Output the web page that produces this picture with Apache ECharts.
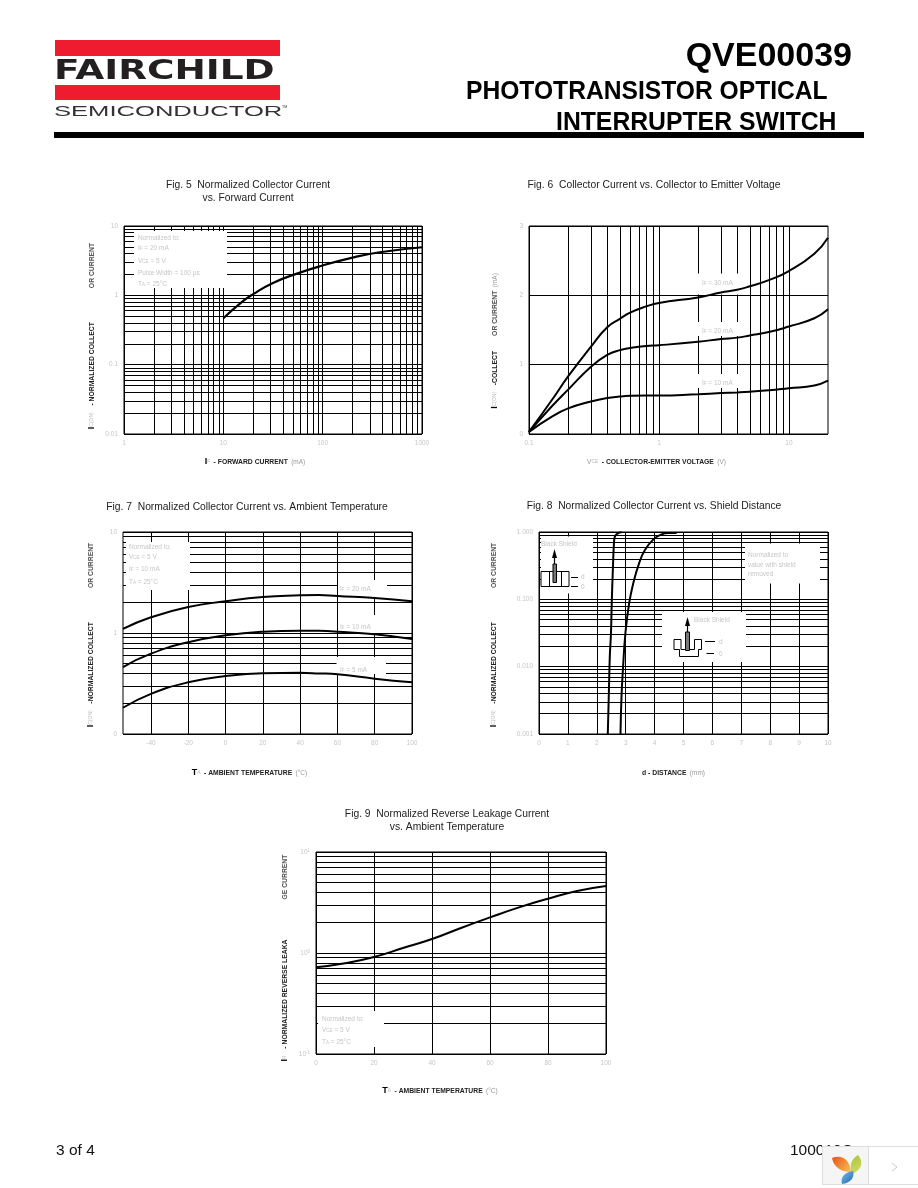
<!DOCTYPE html>
<html>
<head>
<meta charset="utf-8">
<style>html,body{margin:0;padding:0;background:#fff}#main{width:918px;height:1188px}</style>
<script src="https://cdn.jsdelivr.net/npm/echarts@6/dist/echarts.min.js"></script>
</head>
<body>
<div id="main"></div>
<script>
// Fig. 5
const fig5Forward = [10, 15, 20, 32, 57, 94, 195, 375, 1000];
const fig5Collector = [0.466, 0.78, 1.04, 1.52, 2.09, 2.63, 3.47, 4.18, 4.94];
// Fig. 6
const fig6Vce = [0.1, 0.15, 0.2, 0.3, 0.4, 0.5, 0.6, 0.8, 1, 2, 3, 4, 5, 7, 10, 15.7, 20];
const fig6If30 = [0.03, 0.49, 0.83, 1.26, 1.54, 1.66, 1.75, 1.84, 1.89, 1.97, 2.04, 2.08, 2.13, 2.22, 2.35, 2.6, 2.83];
const fig6If20 = [0.03, 0.4, 0.64, 0.97, 1.14, 1.21, 1.24, 1.27, 1.28, 1.33, 1.37, 1.39, 1.42, 1.47, 1.55, 1.67, 1.8];
const fig6If10 = [0.03, 0.25, 0.37, 0.47, 0.52, 0.54, 0.55, 0.555, 0.555, 0.575, 0.59, 0.6, 0.61, 0.63, 0.66, 0.7, 0.77];
// Fig. 7
const fig7Temp = [-55, -40, -20, 0, 20, 40, 50, 60, 80, 100];
const fig7If20 = [1.1, 1.43, 1.81, 2.06, 2.27, 2.36, 2.38, 2.32, 2.22, 2.06];
const fig7If10 = [0.46, 0.624, 0.81, 0.948, 1.03, 1.055, 1.05, 1.03, 0.97, 0.87];
const fig7If5 = [0.182, 0.25, 0.325, 0.375, 0.4, 0.403, 0.398, 0.39, 0.353, 0.325];
// Fig. 8
const fig8DistA = [2.38, 2.42, 2.45, 2.49, 2.52, 2.555, 2.59, 2.62, 2.71, 2.86];
const fig8CurrA = [0.001, 0.00454, 0.0141, 0.0313, 0.0972, 0.271, 0.635, 0.843, 0.945, 0.99];
const fig8DistB = [2.82, 2.855, 2.91, 2.99, 3.11, 3.26, 3.46, 3.66, 3.95, 4.24, 4.47, 4.76];
const fig8CurrB = [0.001, 0.0036, 0.01, 0.0313, 0.082, 0.172, 0.34, 0.535, 0.77, 0.924, 0.966, 0.966];
// Fig. 9
const fig9Temp = [0, 10, 20, 30, 40, 50, 60, 70, 80, 90, 100];
const fig9Leak = [0.721, 0.79, 0.913, 1.12, 1.376, 1.77, 2.25, 2.83, 3.45, 4.11, 4.61];
// gridlines and tick labels
const logSteps = [1, 2, 3, 4, 5, 6, 7, 8, 9];
const fig5XLabels = [1, 10, 100, 1000];
const fig5YLabels = [0.01, 0.1, 1, 10];
const fig6XLabels = [0.1, 1, 10];
const fig6YTicks = [0, 1, 2, 3];
const fig7XTicks = [-40, -20, 0, 20, 40, 60, 80, 100];
const fig7YLabels = [0.1, 1, 10];
const fig8XTicks = [0, 1, 2, 3, 4, 5, 6, 7, 8, 9, 10];
const fig8YLabels = [0.001, 0.01, 0.1, 1];
const fig9XTicks = [0, 20, 40, 60, 80, 100];
const fig9YLabels = [0.1, 1, 10];

const SANS = '"Liberation Sans", Arial, sans-serif';
const PALE = '#c6c6c6';

function decades(from, count) {
    const out = [];
    for (let d = 0; d < count; d++) {
        logSteps.forEach(s => out.push(+(s * from * Math.pow(10, d)).toPrecision(3)));
    }
    out.push(+(from * Math.pow(10, count)).toPrecision(3));
    return out;
}

const nameRich = {
    b: {fontFamily: SANS, fontSize: 6.8, fontWeight: 'bold', color: '#222'},
    m: {fontFamily: SANS, fontSize: 6.8, fontWeight: 'bold', color: '#555'},
    p: {fontFamily: SANS, fontSize: 6.5, color: '#999'},
    s: {fontFamily: SANS, fontSize: 5, color: '#bbb'},
    i: {fontFamily: SANS, fontSize: 9, fontWeight: 'bold', color: '#000'},
    g1: {width: 34}, g2: {width: 15}, g3: {width: 40}
};

function axis(gridIndex, type, min, max, ticks, labels, formatter, name, nameGap, padding) {
    return {
        gridIndex, type, min, max,
        logBase: 10,
        name, nameGap,
        nameLocation: 'middle',
        nameTextStyle: {padding, rich: nameRich},
        axisLine: {show: false},
        axisTick: {show: false, customValues: ticks},
        axisLabel: {customValues: labels, color: PALE, fontSize: 6.5, fontFamily: SANS, margin: 6, hideOverlap: false,
            formatter, rich: {a: {color: PALE, fontSize: 6.5}, u: {color: PALE, fontSize: 4.5, verticalAlign: 'top'}}},
        splitLine: {show: true, lineStyle: {color: '#000', width: 1}},
        minorSplitLine: {show: false}
    };
}

const plain = v => String(v);

const grids = [
    {left: 124, top: 226, width: 298, height: 208},
    {left: 529, top: 226, width: 299, height: 208},
    {left: 123, top: 532, width: 289, height: 202},
    {left: 539, top: 532, width: 289, height: 202},
    {left: 316, top: 852, width: 290, height: 202}
].map(g => ({...g, show: true, borderColor: '#000', borderWidth: 1, backgroundColor: 'transparent'}));

const xAxes = [
    axis(0, 'log', 1, 1000, decades(1, 3), fig5XLabels, plain, '{i|I}{s|F} {b|- FORWARD CURRENT} {p|(mA)}', 22, [0, 36, 0, 0]),
    axis(1, 'log', 0.1, 20, decades(0.1, 2), fig6XLabels, plain, '{p|V}{s|CE} {b|- COLLECTOR-EMITTER VOLTAGE} {p|(V)}', 22, [0, 44, 0, 0]),
    axis(2, 'value', -55, 100, fig7XTicks, fig7XTicks, plain, '{i|T}{s|A} {b|- AMBIENT TEMPERATURE} {p|(°C)}', 33, [0, 36, 0, 0]),
    axis(3, 'value', 0, 10, fig8XTicks, fig8XTicks, plain, '{b|d - DISTANCE} {p|(mm)}', 33, [0, 20, 0, 0]),
    axis(4, 'value', 0, 100, fig9XTicks, fig9XTicks, plain, '{i|T}{s|A} {b|- AMBIENT TEMPERATURE} {p|(°C)}', 31, [0, 42, 0, 0])
];

const yAxes = [
    axis(0, 'log', 0.01, 10, decades(0.01, 3), fig5YLabels, plain, '{i|I}{s|C(ON)}  {b|- NORMALIZED COLLECT}{g1| }{m|OR CURRENT}', 26, [0, 12, 0, 0]),
    axis(1, 'value', 0, 3, fig6YTicks, fig6YTicks, plain, '{i|I}{s|C(ON)}  {b|-COLLECT}{g2| }{m|OR CURRENT} {p|(mA)}', 28, [0, 22, 0, 0]),
    axis(2, 'log', 0.1, 10, decades(0.1, 2), fig7YLabels, v => (v < 1 ? '0' : String(v)), '{i|I}{s|C(ON)}  {b|-NORMALIZED COLLECT}{g1| }{m|OR CURRENT}', 26, [0, 4, 0, 0]),
    axis(3, 'log', 0.001, 1, decades(0.001, 3), fig8YLabels, v => Number(v).toFixed(3), '{i|I}{s|C(ON)}  {b|-NORMALIZED COLLECT}{g1| }{m|OR CURRENT}', 39, [0, 4, 0, 0]),
    axis(4, 'log', 0.1, 10, decades(0.1, 2), fig9YLabels, v => (v < 1 ? '{a|10}{u|-1}' : v > 1 ? '{a|10}{u|1}' : '{a|10}{u|0}'), '{i|I}{s|R}  {b|- NORMALIZED REVERSE LEAKA}{g3| }{m|GE CURRENT}', 25, [0, 10, 0, 0])
];

function curve(idx, xs, ys, width) {
    return {
        type: 'line', xAxisIndex: idx, yAxisIndex: idx, z: 2,
        data: xs.map((x, i) => [x, ys[i]]),
        smooth: 0.5, symbol: 'none', silent: true,
        lineStyle: {color: '#000', width: width || 2}
    };
}

const titles = [
    {text: 'Fig. 5  Normalized Collector Current\nvs. Forward Current', left: 248, top: 178},
    {text: 'Fig. 6  Collector Current vs. Collector to Emitter Voltage', left: 654, top: 178},
    {text: 'Fig. 7  Normalized Collector Current vs. Ambient Temperature', left: 247, top: 500},
    {text: 'Fig. 8  Normalized Collector Current vs. Shield Distance', left: 654, top: 499},
    {text: 'Fig. 9  Normalized Reverse Leakage Current\nvs. Ambient Temperature', left: 447, top: 807}
].map(t => ({...t, textAlign: 'center', padding: 0,
    textStyle: {fontFamily: SANS, fontSize: 10.3, fontWeight: 'normal', color: '#222', lineHeight: 13.5}}));

// white patches behind the notes, they cut the gridlines
const patches = [
    [134, 231, 93, 57], [697, 273.5, 42, 21], [697, 322, 42, 14], [697, 374, 42, 14],
    [126, 542, 64, 48], [338, 580, 49, 18], [338, 615, 49, 18], [336.5, 657, 49.5, 17],
    [541, 536.5, 52, 57], [662, 612, 84, 50], [745, 543.5, 75, 40],
    [318, 1011, 66, 36]
].map(p => ({type: 'rect', shape: {x: p[0], y: p[1], width: p[2], height: p[3]}, style: {fill: '#fff'}}));

function note(x, y, text, size) {
    return {type: 'text', x, y, style: {
        text, fontFamily: SANS, fontSize: size || 6.5, fill: PALE, verticalAlign: 'middle',
        rich: {s: {fontFamily: SANS, fontSize: 4.5, fill: PALE, verticalAlign: 'bottom'}}
    }};
}

function seg(x1, y1, x2, y2, w) {
    return {type: 'line', shape: {x1, y1, x2, y2}, style: {stroke: '#000', lineWidth: w || 1}};
}

function box(x, y, w, h, fill) {
    return {type: 'rect', shape: {x, y, width: w, height: h}, style: {fill: fill || 'none', stroke: '#000', lineWidth: 1}};
}

function arrowHead(x, y) {
    return {type: 'polygon', shape: {points: [[x, y], [x - 2.5, y + 9], [x + 2.5, y + 9]]}, style: {fill: '#000'}};
}

const notes = [
    note(138, 238, 'Normalized to:'), note(138, 248, 'I{s|F} = 20 mA'), note(138, 261, 'V{s|CE} = 5 V'),
    note(138, 273, 'Pulse Width = 100 µs'), note(138, 284, 'T{s|A} = 25°C'),
    note(702, 283, 'I{s|F} = 30 mA'), note(702, 331, 'I{s|F} = 20 mA'), note(702, 383, 'I{s|F} = 10 mA'),
    note(129, 547, 'Normalized to:'), note(129, 557, 'V{s|CE} = 5 V'), note(129, 569, 'I{s|F} = 10 mA'), note(129, 582, 'T{s|A} = 25°C'),
    note(340, 589, 'I{s|F} = 20 mA'), note(340, 627, 'I{s|F} = 10 mA'), note(340, 670, 'I{s|F} = 5 mA'),
    note(322, 1019, 'Normalized to:'), note(322, 1030, 'V{s|CE} = 5 V'), note(322, 1042, 'T{s|A} = 25°C'),
    note(748, 555, 'Normalized to'), note(748, 565, 'value with shield'), note(748, 574, 'removed'),
    // left inset of fig 8
    note(541, 544, 'Black Shield'),
    box(541, 571.5, 28, 15), seg(549.5, 571.5, 549.5, 586.5), seg(561.5, 571.5, 561.5, 586.5),
    seg(554.5, 556, 554.5, 564, 1.2), arrowHead(554.5, 549),
    box(553, 564, 3.5, 18.5, '#777'),
    seg(571, 577.5, 578, 577.5), seg(571, 586.5, 578, 586.5),
    note(581, 577, 'd'), note(581, 587, '0'),
    // right inset of fig 8
    note(694, 620, 'Black Shield'),
    {type: 'polygon', shape: {points: [[674, 639.5], [681, 639.5], [681, 649.5], [694.5, 649.5], [694.5, 639.5], [701.5, 639.5], [701.5, 649.5], [698.5, 649.5], [698.5, 656.5], [679.5, 656.5], [679.5, 649.5], [674, 649.5]]}, style: {fill: 'none', stroke: '#000', lineWidth: 1}},
    seg(687.5, 624, 687.5, 632, 1.2), arrowHead(687.5, 617),
    box(685.5, 632, 4, 18.5, '#777'),
    seg(705, 641.5, 715, 641.5), seg(706.5, 653.5, 714, 653.5),
    note(719, 642, 'd'), note(719, 654, '0')
];

function headText(x, y, text, font, align, scaleX, fill) {
    return {type: 'text', x, y, scaleX: scaleX || 1,
        style: {text, font, fill: fill || '#000', align: align || 'left', verticalAlign: 'bottom'}};
}

function leaf(pathData, c1, c2) {
    return {type: 'path', shape: {pathData},
        style: {fill: {type: 'linear', x: 0, y: 0, x2: 1, y2: 1, colorStops: [{offset: 0, color: c1}, {offset: 1, color: c2}]}}};
}

const page = [
    // logo
    {type: 'rect', shape: {x: 55, y: 40, width: 225, height: 16}, style: {fill: '#ee1c2e'}},
    {type: 'rect', shape: {x: 55, y: 85, width: 225, height: 15}, style: {fill: '#ee1c2e'}},
    headText(54, 85, 'FAIRCHILD', 'bold 26px "DejaVu Sans"', 'left', 1.44, '#231f20'),
    headText(54, 120, 'SEMICONDUCTOR', '15.5px "Liberation Sans"', 'left', 1.65, '#333'),
    headText(282, 109, 'TM', '3.5px "Liberation Sans"', 'left', 1, '#333'),
    // heading
    headText(852, 74, 'QVE00039', 'bold 34px "Liberation Sans"', 'right'),
    headText(466, 105, 'PHOTOTRANSISTOR OPTICAL', 'bold 25px "Liberation Sans"', 'left', 0.985),
    headText(556, 136, 'INTERRUPTER SWITCH', 'bold 25px "Liberation Sans"', 'left', 0.99),
    {type: 'rect', shape: {x: 54, y: 132, width: 810, height: 6}, style: {fill: '#000'}},
    // footer
    headText(56, 1159, '3 of 4', '15.5px "Liberation Sans"', 'left', 1, '#111'),
    headText(790, 1159, '100010C', '15.5px "Liberation Sans"', 'left', 1, '#111'),
    // page widget over the footer
    {type: 'rect', shape: {x: 822.5, y: 1146.5, width: 96, height: 38}, style: {fill: '#fff', stroke: '#ddd', lineWidth: 1}},
    {type: 'rect', shape: {x: 822.5, y: 1146.5, width: 46, height: 38}, style: {fill: '#f5f5f5', stroke: '#ddd', lineWidth: 1}},
    leaf('M832 1158 C842 1154 850 1160 851 1172 C842 1172 834 1168 832 1158 Z', '#e8501c', '#f6c453'),
    leaf('M858 1155 C864 1162 862 1170 852 1174 C849 1166 851 1159 858 1155 Z', '#a5c63a', '#d8dc6a'),
    leaf('M853 1171 C855 1178 850 1183 842 1184 C840 1177 845 1172 853 1171 Z', '#7cc0e8', '#1d64b0'),
    {type: 'polyline', shape: {points: [[892, 1163], [897, 1167], [892, 1171]]}, style: {stroke: '#c8c8c8', fill: 'none', lineWidth: 1}}
];

// pixel layers, one below the curves and one above
function layer(children, z) {
    return {
        type: 'custom', coordinateSystem: 'none', z, silent: true, clip: false,
        data: [[0]],
        renderItem: () => ({type: 'group', children})
    };
}

const series = [
    layer(patches, 1),
    curve(0, fig5Forward, fig5Collector, 2.2),
    curve(1, fig6Vce, fig6If30),
    curve(1, fig6Vce, fig6If20),
    curve(1, fig6Vce, fig6If10),
    curve(2, fig7Temp, fig7If20),
    curve(2, fig7Temp, fig7If10),
    curve(2, fig7Temp, fig7If5),
    curve(3, fig8DistA, fig8CurrA),
    curve(3, fig8DistB, fig8CurrB),
    curve(4, fig9Temp, fig9Leak),
    layer(notes.concat(page), 5)
];

const chart = echarts.init(document.getElementById('main'), null, {renderer: 'canvas'});
chart.setOption({
    animation: false,
    backgroundColor: '#fff',
    title: titles,
    grid: grids,
    xAxis: xAxes,
    yAxis: yAxes,
    series
});
</script>
</body>
</html>
